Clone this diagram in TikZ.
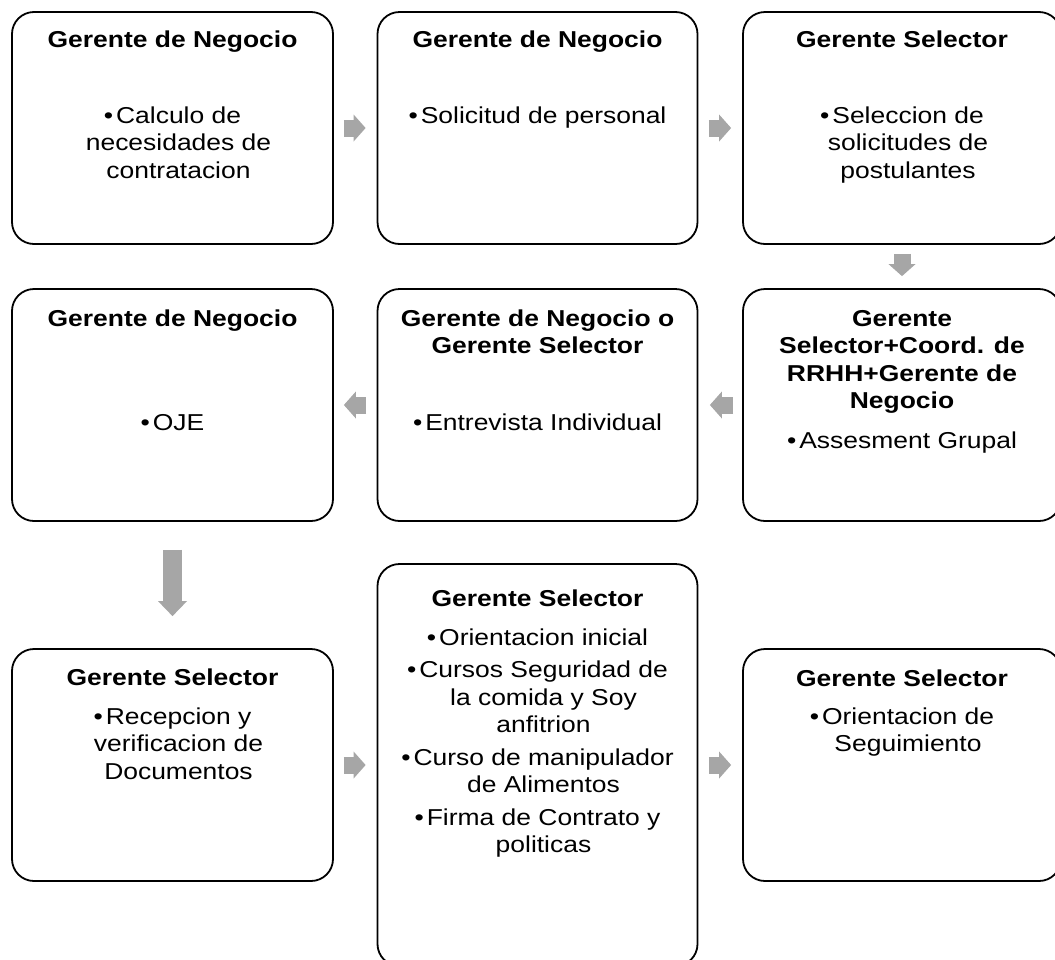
\documentclass[tikz,border=0pt]{standalone}
\usepackage{fontspec}
\setmainfont{Liberation Sans}[FakeStretch=1.15]
\usetikzlibrary{arrows.meta}
\definecolor{arrowgray}{HTML}{A6A6A6}
\newcommand{\tstrut}{\rule{0pt}{18pt}}
\newcommand{\cont}{\hspace*{12pt}}
\newcommand{\bul}{•\hspace{3pt}}
\begin{document}
\begin{tikzpicture}[x=1pt,y=-1pt,
  box/.style={draw=black, line width=1.8pt, rounded corners=22pt, fill=white, inner sep=0pt},
  ttl/.style={anchor=north, inner sep=0pt, align=center, font=\bfseries\fontsize{23}{27.5}\selectfont},
  txt/.style={anchor=north, inner sep=0pt, align=center, font=\fontsize{23}{27.5}\selectfont},
  harr/.style={draw=arrowgray, line width=17pt, -{Triangle[length=12pt,width=27pt,line width=0pt]}},
  bigarr/.style={draw=arrowgray, line width=19pt, -{Triangle[length=15pt,width=29pt,line width=0pt]}},
]
\useasboundingbox (0,0) rectangle (1055,959);
\fill[white] (0,0) rectangle (1055,959);

% boxes
\node[box, minimum width=321pt, minimum height=232pt] (b1) at (172.5,128) {};
\node[box, minimum width=320pt, minimum height=232pt] (b2) at (537.5,128) {};
\node[box, minimum width=318pt, minimum height=232pt] (b3) at (902,128) {};
\node[box, minimum width=321pt, minimum height=232pt] (b4) at (172.5,405) {};
\node[box, minimum width=320pt, minimum height=232pt] (b5) at (537.5,405) {};
\node[box, minimum width=318pt, minimum height=232pt] (b6) at (902,405) {};
\node[box, minimum width=321pt, minimum height=232pt] (b7) at (172.5,765) {};
\node[box, minimum width=320pt, minimum height=402pt] (b8) at (537.5,765) {};
\node[box, minimum width=318pt, minimum height=232pt] (b9) at (902,765) {};

% texts
\node[ttl] (t1) at (172.5,29) {\tstrut Gerente de Negocio};
\node[txt] (x1) at (172.5,105) {\tstrut \bul Calculo de\\ \cont necesidades de\\ \cont contratacion};
\node[ttl] (t2) at (537.5,29) {\tstrut Gerente de Negocio};
\node[txt] (x2) at (537.5,105) {\tstrut \bul Solicitud de personal};
\node[ttl] (t3) at (902,29) {\tstrut Gerente Selector};
\node[txt] (x3) at (902,105) {\tstrut \bul Seleccion de\\ \cont solicitudes de\\ \cont postulantes};

\node[ttl] (t4) at (172.5,308) {\tstrut Gerente de Negocio};
\node[txt] (x4) at (172.5,412) {\tstrut \bul OJE};
\node[ttl] (t5) at (537.5,308) {\tstrut Gerente de Negocio o\\Gerente Selector};
\node[txt] (x5) at (537.5,412) {\tstrut \bul Entrevista Individual};
\node[ttl] (t6) at (902,308) {\tstrut Gerente\\Selector+Coord. de\\RRHH+Gerente de\\Negocio};
\node[txt] (x6) at (902,430) {\tstrut \bul Assesment Grupal};

\node[ttl] (t7) at (172.5,667) {\tstrut Gerente Selector};
\node[txt] (x7) at (172.5,706) {\tstrut \bul Recepcion y\\ \cont verificacion de\\ \cont Documentos};
\node[ttl] (t8) at (537.5,588) {\tstrut Gerente Selector};
\node[txt] (x8) at (537.5,627) {\tstrut \bul Orientacion inicial\\[5pt]
  \bul Cursos Seguridad de\\ \cont la comida y Soy\\ \cont anfitrion\\[5pt]
  \bul Curso de manipulador\\ \cont de Alimentos\\[5pt]
  \bul Firma de Contrato y\\ \cont politicas};
\node[ttl] (t9) at (902,668) {\tstrut Gerente Selector};
\node[txt] (x9) at (902,706) {\tstrut \bul Orientacion de\\ \cont Seguimiento};

% arrows
\draw[harr, shorten <=10pt, shorten >=11pt] (b1.east) -- (b2.west);
\draw[harr, shorten <=10.5pt, shorten >=11pt] (b2.east) -- (b3.west);
\draw[harr, shorten <=9pt, shorten >=12pt] (b3.south) -- (b6.north);
\draw[harr, shorten <=9pt, shorten >=11.5pt] (b6.west) -- (b5.east);
\draw[harr, shorten <=10.5pt, shorten >=10pt] (b5.west) -- (b4.east);
\draw[bigarr, shorten <=28pt, shorten >=32pt] (b4.south) -- (b7.north);
\draw[harr, shorten <=10pt, shorten >=11pt] (b7.east) -- (b8.west);
\draw[harr, shorten <=10.5pt, shorten >=11pt] (b8.east) -- (b9.west);
\end{tikzpicture}
\end{document}
